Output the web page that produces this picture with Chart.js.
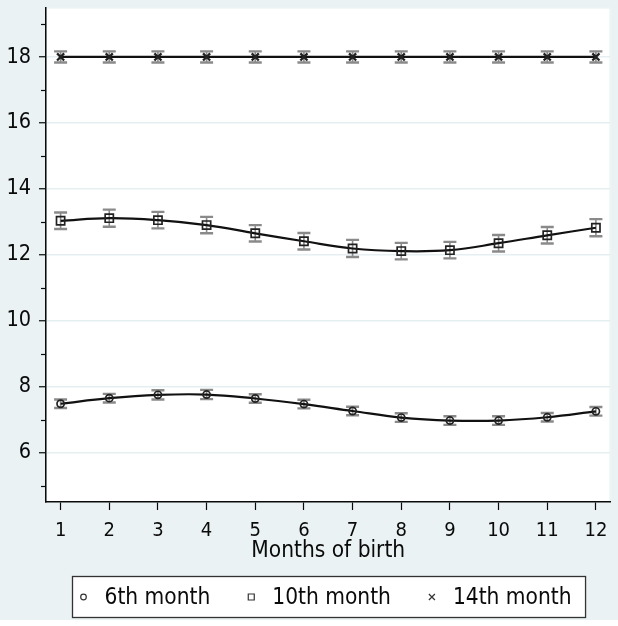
<!DOCTYPE html>
<html>
<head>
<meta charset="utf-8">
<title>Months of birth</title>
<script src="https://cdn.jsdelivr.net/npm/chart.js"></script>
<style>
  html, body { margin: 0; padding: 0; background: #eaf2f3; }
  canvas { display: block; }
</style>
</head>
<body>
<canvas id="chart" width="618" height="626"></canvas>
<script>
const months = [1, 2, 3, 4, 5, 6, 7, 8, 9, 10, 11, 12]
const seriesLabels = ['6th month', '10th month', '14th month']

const sixthMonth = [7.48, 7.65, 7.75, 7.76, 7.64, 7.47, 7.26, 7.06, 6.97, 6.97, 7.07, 7.25]
const sixthErr = [0.13, 0.13, 0.14, 0.14, 0.13, 0.13, 0.13, 0.13, 0.13, 0.13, 0.13, 0.13]

const tenthMonth = [13.03, 13.11, 13.05, 12.90, 12.65, 12.41, 12.19, 12.11, 12.14, 12.35, 12.59, 12.82]
const tenthErr = [0.25, 0.26, 0.25, 0.25, 0.25, 0.25, 0.26, 0.25, 0.25, 0.25, 0.25, 0.26]

const fourteenthMonth = [18, 18, 18, 18, 18, 18, 18, 18, 18, 18, 18, 18]
const fourteenthErr = [0.17, 0.17, 0.17, 0.17, 0.17, 0.17, 0.17, 0.17, 0.17, 0.17, 0.17, 0.17]

const yMajorTicks = [6, 8, 10, 12, 14, 16, 18]
const yMinorTicks = [5, 7, 9, 11, 13, 15, 17, 19]

const FONT = "'DejaVu Sans Condensed', 'DejaVu Sans', sans-serif"
const INK = '#0a0a0a'
const GRID = '#e5eff1'

const toPoints = (values) => months.map((m, i) => ({ x: m, y: values[i] }))

// white plot region with a faint outline, on the bluish-gray page
const plotRegion = {
  id: 'plotRegion',
  beforeDraw(chart) {
    const { ctx, chartArea: a } = chart
    ctx.save()
    ctx.fillStyle = '#eaf2f3'
    ctx.fillRect(0, 0, chart.width, chart.height)
    ctx.fillStyle = '#fff'
    ctx.fillRect(0, 620, chart.width, chart.height - 620)
    ctx.fillRect(a.left, a.top, a.right - a.left, a.bottom - a.top)
    ctx.strokeStyle = GRID
    ctx.lineWidth = 1
    ctx.strokeRect(a.left + 0.5, a.top + 0.5, a.right - a.left - 1, a.bottom - a.top - 1)
    ctx.restore()
  },
  afterDraw(chart) {
    // short minor ticks on the y axis
    const { ctx, chartArea: a, scales: { y } } = chart
    ctx.save()
    ctx.strokeStyle = INK
    ctx.lineWidth = 1.2
    yMinorTicks.forEach((v) => {
      const py = Math.round(y.getPixelForValue(v)) + 0.5
      ctx.beginPath()
      ctx.moveTo(a.left - 5, py)
      ctx.lineTo(a.left, py)
      ctx.stroke()
    })
    ctx.restore()
  },
}

const errorBars = {
  id: 'errorBars',
  beforeDatasetsDraw(chart) {
    const { ctx, scales: { x, y } } = chart
    ctx.save()
    ctx.strokeStyle = '#8a8a8a'
    chart.data.datasets.forEach((ds) => {
      ds.data.forEach((p, i) => {
        const px = x.getPixelForValue(p.x)
        const hi = y.getPixelForValue(p.y + ds.errors[i])
        const lo = y.getPixelForValue(p.y - ds.errors[i])
        ctx.lineWidth = 1.6
        ctx.beginPath()
        ctx.moveTo(px, hi)
        ctx.lineTo(px, lo)
        ctx.stroke()
        ctx.lineWidth = 2.4
        ctx.beginPath()
        ctx.moveTo(px - 6.5, hi)
        ctx.lineTo(px + 6.5, hi)
        ctx.moveTo(px - 6.5, lo)
        ctx.lineTo(px + 6.5, lo)
        ctx.stroke()
      })
    })
    ctx.restore()
  },
}

function drawMarker(ctx, style, x, y) {
  ctx.beginPath()
  if (style === 'circle') {
    ctx.arc(x, y, 2.8, 0, Math.PI * 2)
  } else if (style === 'rect') {
    ctx.rect(x - 3, y - 3, 6, 6)
  } else {
    ctx.moveTo(x - 3, y - 3)
    ctx.lineTo(x + 3, y + 3)
    ctx.moveTo(x + 3, y - 3)
    ctx.lineTo(x - 3, y + 3)
  }
  ctx.stroke()
}

// boxed legend centred under the plot
const legendBox = {
  id: 'legendBox',
  afterDraw(chart) {
    const { ctx, chartArea: a } = chart
    ctx.save()
    ctx.font = `22.5px ${FONT}`
    const items = chart.data.datasets.map((ds) => ({
      text: ds.label,
      style: ds.pointStyle,
      w: ctx.measureText(ds.label).width,
    }))
    const markerGap = 21
    const itemGap = 41
    const padL = 11
    const padR = 14
    const total = padL + padR + itemGap * (items.length - 1) +
      items.reduce((s, it) => s + markerGap + it.w, 0)
    const left = Math.round((a.left + a.right) / 2 - total / 2) + 0.5
    const top = 576.5
    const height = 41
    ctx.fillStyle = '#fff'
    ctx.fillRect(left, top, total, height)
    ctx.strokeStyle = '#333'
    ctx.lineWidth = 1.3
    ctx.strokeRect(left, top, total, height)

    const cy = top + height / 2
    let x = left + padL
    items.forEach((it) => {
      ctx.strokeStyle = '#333'
      ctx.lineWidth = 1.2
      drawMarker(ctx, it.style, x, cy)
      ctx.fillStyle = INK
      ctx.textBaseline = 'middle'
      ctx.fillText(it.text, x + markerGap, cy + 1)
      x += markerGap + it.w + itemGap
    })
    ctx.restore()
  },
}

const baseSeries = {
  borderColor: '#111',
  borderWidth: 2.2,
  tension: 0.4,
  pointBorderColor: '#222',
  pointBackgroundColor: 'rgba(255,255,255,0)',
  pointBorderWidth: 1.7,
}

new Chart(document.getElementById('chart'), {
  type: 'line',
  data: {
    datasets: [
      { ...baseSeries, label: seriesLabels[0], data: toPoints(sixthMonth), errors: sixthErr, pointStyle: 'circle', pointRadius: 3.6 },
      { ...baseSeries, label: seriesLabels[1], data: toPoints(tenthMonth), errors: tenthErr, pointStyle: 'rect', pointRadius: 5.8 },
      { ...baseSeries, label: seriesLabels[2], data: toPoints(fourteenthMonth), errors: fourteenthErr, pointStyle: 'crossRot', pointRadius: 5, pointBorderWidth: 2.3 },
    ],
  },
  options: {
    responsive: false,
    animation: false,
    layout: { padding: { top: 6, right: 7, left: 0, bottom: 0 } },
    plugins: {
      legend: { display: false },
      tooltip: { enabled: false },
    },
    scales: {
      x: {
        type: 'linear',
        min: 0.7,
        max: 12.3,
        afterBuildTicks: (scale) => { scale.ticks = months.map((m) => ({ value: m })) },
        afterFit: (scale) => {
          scale.height = 124
          scale.paddingLeft = 0
          scale.paddingRight = 0
        },
        grid: { drawOnChartArea: false, tickLength: 8, tickColor: INK, tickWidth: 1.2 },
        border: { color: INK, width: 1.5 },
        ticks: {
          color: INK,
          font: { family: FONT, size: 20 },
          padding: 9,
          maxRotation: 0,
          autoSkip: false,
        },
        title: {
          display: true,
          text: 'Months of birth',
          color: INK,
          font: { family: FONT, size: 22.5 },
          padding: { top: 0, bottom: 61 },
        },
      },
      y: {
        min: 4.5,
        max: 19.5,
        afterBuildTicks: (scale) => {
          scale.ticks = [...yMinorTicks, ...yMajorTicks].sort((a, b) => a - b).map((v) => ({ value: v }))
        },
        afterFit: (scale) => {
          scale.width = 46
          scale.paddingTop = 0
          scale.paddingBottom = 0
        },
        grid: {
          color: (c) => (c.tick && yMajorTicks.includes(c.tick.value) ? GRID : 'rgba(0,0,0,0)'),
          tickColor: (c) => (c.tick && yMajorTicks.includes(c.tick.value) ? INK : 'rgba(0,0,0,0)'),
          tickLength: 7,
          lineWidth: 1.5,
          tickWidth: 1.2,
        },
        border: { color: INK, width: 1.5 },
        ticks: {
          color: INK,
          font: { family: FONT, size: 21.5 },
          padding: 8,
          autoSkip: false,
          callback: (v) => (yMajorTicks.includes(v) ? String(v) : ''),
        },
      },
    },
  },
  plugins: [plotRegion, errorBars, legendBox],
})
</script>
</body>
</html>
